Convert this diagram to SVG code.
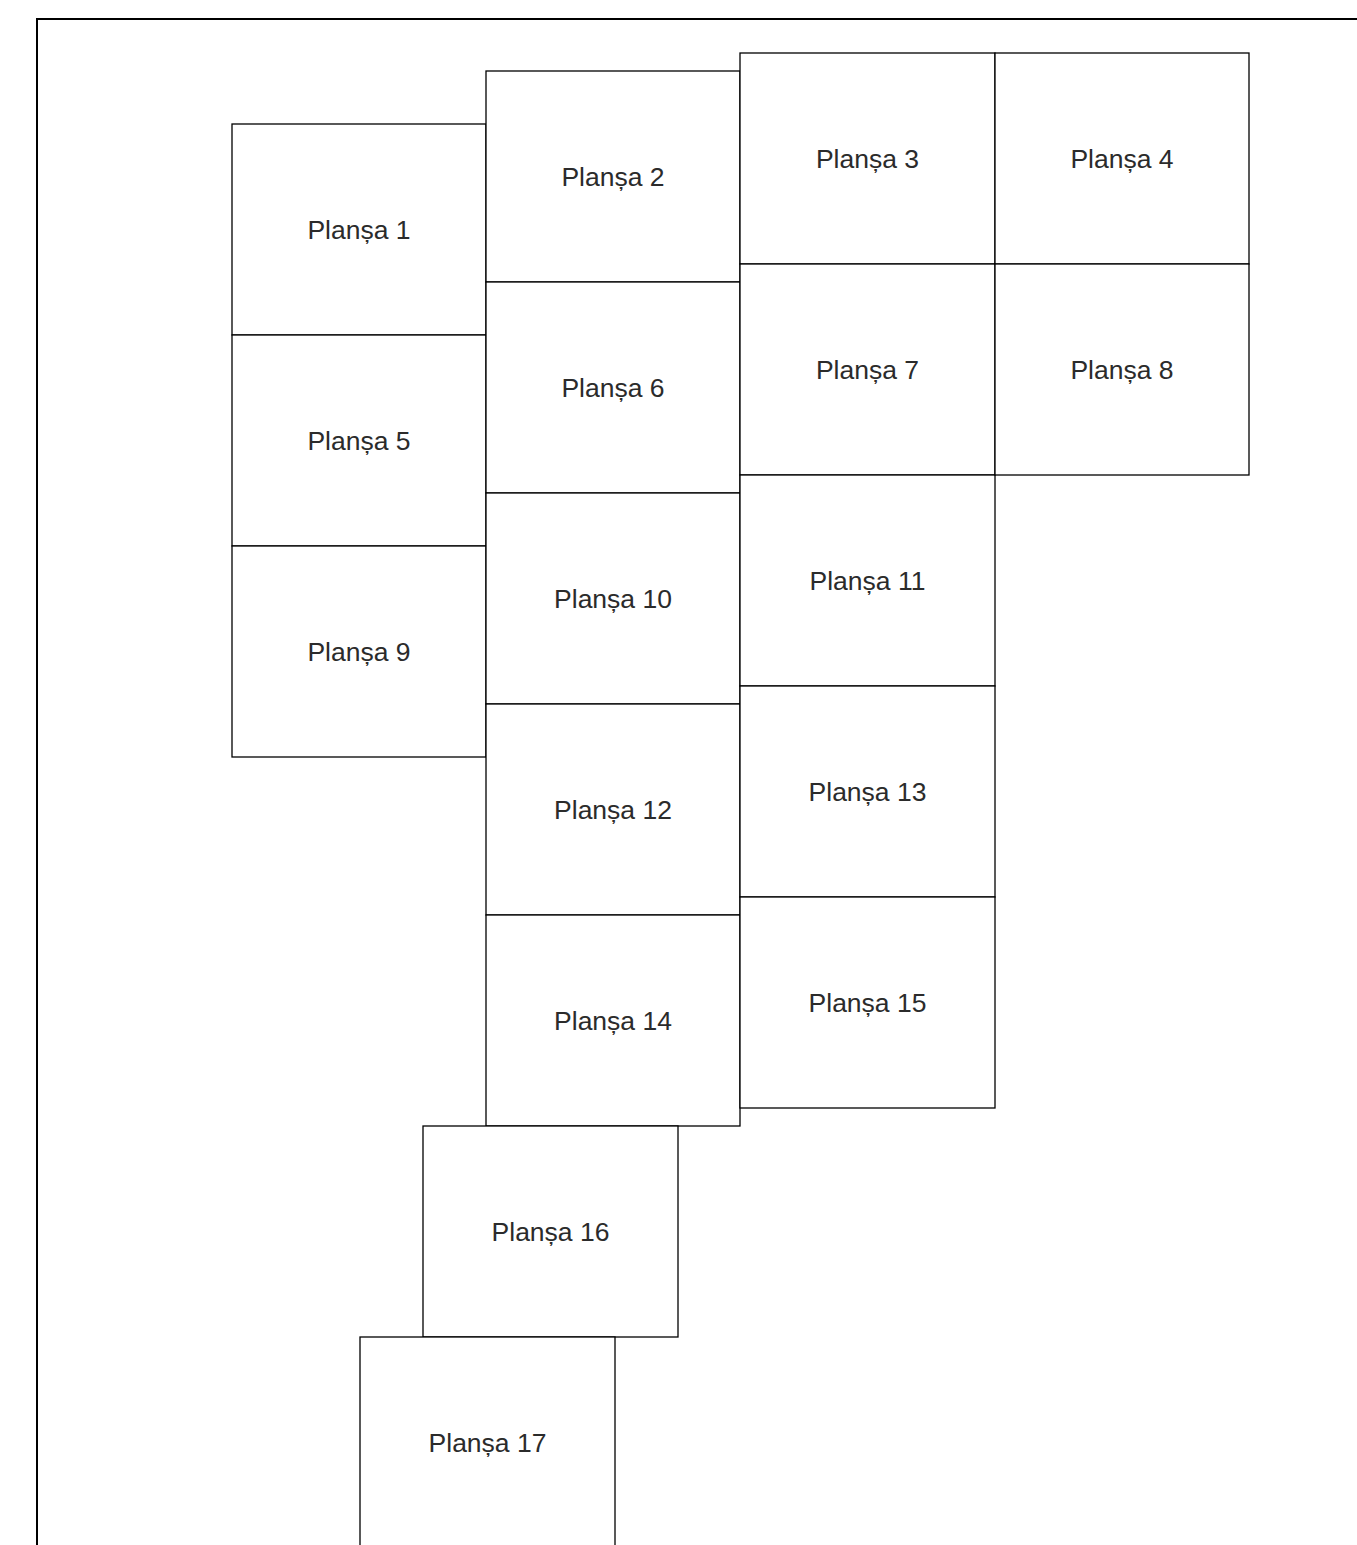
<svg xmlns="http://www.w3.org/2000/svg" width="1357" height="1545" viewBox="0 0 1357 1545">
<style>
.frame{fill:none;stroke:#000;stroke-width:2}
.b rect{fill:#fff;stroke:#000;stroke-width:1.3}
.b text{font-family:"Liberation Sans",Arial,sans-serif;font-size:26.5px;fill:#2b2b2b;text-anchor:middle;dominant-baseline:central}
</style>
<rect width="1357" height="1545" fill="#fff"/>
<rect class="frame" x="37" y="19" width="1340" height="1560"/>
<g class="b">
<g id="p1"><rect x="232" y="124" width="254" height="211"/><text x="359" y="229.5">Planșa 1</text></g>
<g id="p5"><rect x="232" y="335" width="254" height="211"/><text x="359" y="440.5">Planșa 5</text></g>
<g id="p9"><rect x="232" y="546" width="254" height="211"/><text x="359" y="651.5">Planșa 9</text></g>
<g id="p2"><rect x="486" y="71" width="254" height="211"/><text x="613" y="176.5">Planșa 2</text></g>
<g id="p6"><rect x="486" y="282" width="254" height="211"/><text x="613" y="387.5">Planșa 6</text></g>
<g id="p10"><rect x="486" y="493" width="254" height="211"/><text x="613" y="598.5">Planșa 10</text></g>
<g id="p12"><rect x="486" y="704" width="254" height="211"/><text x="613" y="809.5">Planșa 12</text></g>
<g id="p14"><rect x="486" y="915" width="254" height="211"/><text x="613" y="1020.5">Planșa 14</text></g>
<g id="p3"><rect x="740" y="53" width="255" height="211"/><text x="867.5" y="158.5">Planșa 3</text></g>
<g id="p7"><rect x="740" y="264" width="255" height="211"/><text x="867.5" y="369.5">Planșa 7</text></g>
<g id="p11"><rect x="740" y="475" width="255" height="211"/><text x="867.5" y="580.5">Planșa 11</text></g>
<g id="p13"><rect x="740" y="686" width="255" height="211"/><text x="867.5" y="791.5">Planșa 13</text></g>
<g id="p15"><rect x="740" y="897" width="255" height="211"/><text x="867.5" y="1002.5">Planșa 15</text></g>
<g id="p4"><rect x="995" y="53" width="254" height="211"/><text x="1122" y="158.5">Planșa 4</text></g>
<g id="p8"><rect x="995" y="264" width="254" height="211"/><text x="1122" y="369.5">Planșa 8</text></g>
<g id="p16"><rect x="423" y="1126" width="255" height="211"/><text x="550.5" y="1231.5">Planșa 16</text></g>
<g id="p17"><rect x="360" y="1337" width="255" height="211"/><text x="487.5" y="1442.5">Planșa 17</text></g>
</g>
<g id="connectors"/>
</svg>
